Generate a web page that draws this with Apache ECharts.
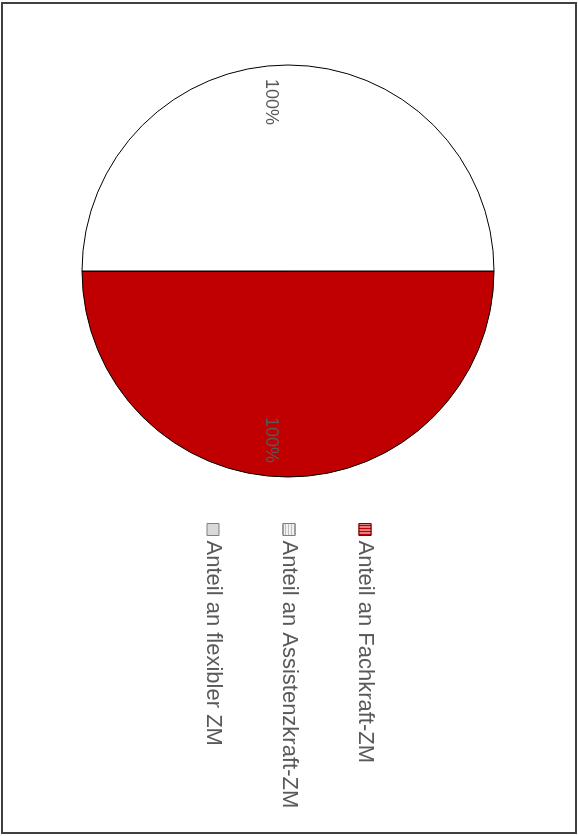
<!DOCTYPE html>
<html>
<head>
<meta charset="utf-8">
<script src="https://cdn.jsdelivr.net/npm/echarts@6/dist/echarts.min.js"></script>
<style>
  html, body { margin: 0; padding: 0; width: 578px; height: 836px; overflow: hidden; background: #fff; }
  /* Das Diagramm ist im Original um 90° gedreht */
  #chart {
    position: absolute; left: 0; top: 0;
    width: 836px; height: 578px;
    transform-origin: 0 0;
    transform: translateX(578px) rotate(90deg);
  }
</style>
</head>
<body>
<div id="chart"></div>
<script>
// Daten
var categories = ['Anteil an Fachkraft-ZM', 'Anteil an Assistenzkraft-ZM', 'Anteil an flexibler ZM'];
var values = [100, 0, 0];
// unsichtbare Hälfte (weiß), damit ein Halbkreis entsteht
var blankValue = 100;
var colors = ['#C00000', '#F2F2F2', '#D9D9D9'];

(function() {
  var myChart = echarts.init(document.getElementById('chart'));

  var pieData = categories.map(function(name, i) {
    return {
      name: name,
      value: values[i],
      itemStyle: { color: colors[i] }
    };
  });
  pieData.push({
    name: 'leer',
    value: blankValue,
    itemStyle: { color: '#fff' }
  });

  var option = {
    animation: false,
    graphic: [
      {
        type: 'rect',
        shape: { x: 3, y: 2, width: 830, height: 574 },
        style: { fill: 'none', stroke: '#404040', lineWidth: 2 }
      }
    ],
    legend: {
      orient: 'vertical',
      left: 518,
      top: 197,
      icon: 'rect',
      itemWidth: 12,
      itemHeight: 12,
      itemGap: 54,
      textStyle: {
        color: '#595959',
        fontSize: 22,
        fontFamily: 'Liberation Sans'
      },
      data: [
        {
          name: categories[0],
          itemStyle: {
            color: '#C00000',
            borderColor: '#7F0000',
            borderWidth: 1,
            decal: { symbol: 'rect', symbolSize: 1, color: '#fff', dashArrayX: [1, 2], dashArrayY: [1, 0] }
          }
        },
        {
          name: categories[1],
          itemStyle: {
            color: '#F2F2F2',
            borderColor: '#7F7F7F',
            borderWidth: 1,
            decal: { symbol: 'rect', symbolSize: 1, color: '#BFBFBF', dashArrayX: [1, 0], dashArrayY: [1, 2] }
          }
        },
        {
          name: categories[2],
          itemStyle: { color: '#D9D9D9', borderColor: '#7F7F7F', borderWidth: 1 }
        }
      ]
    },
    series: [
      {
        type: 'pie',
        center: [271, 290],
        radius: [0, 206],
        startAngle: 90,
        clockwise: true,
        legendHoverLink: false,
        itemStyle: {
          borderColor: '#000',
          borderWidth: 1
        },
        label: {
          show: true,
          position: 'inside',
          color: '#595959',
          fontSize: 18,
          fontFamily: 'Liberation Sans',
          formatter: function(p) {
            return p.value ? p.value + '%' : '';
          }
        },
        // Beschriftung weiter nach außen schieben
        labelLayout: function(p) {
          return { dx: p.dataIndex === 0 ? 63 : -63, dy: 17 };
        },
        data: pieData
      }
    ]
  };
  myChart.setOption(option);
  window.addEventListener('resize', function() {
    myChart.resize();
  });
})();
</script>
</body>
</html>
